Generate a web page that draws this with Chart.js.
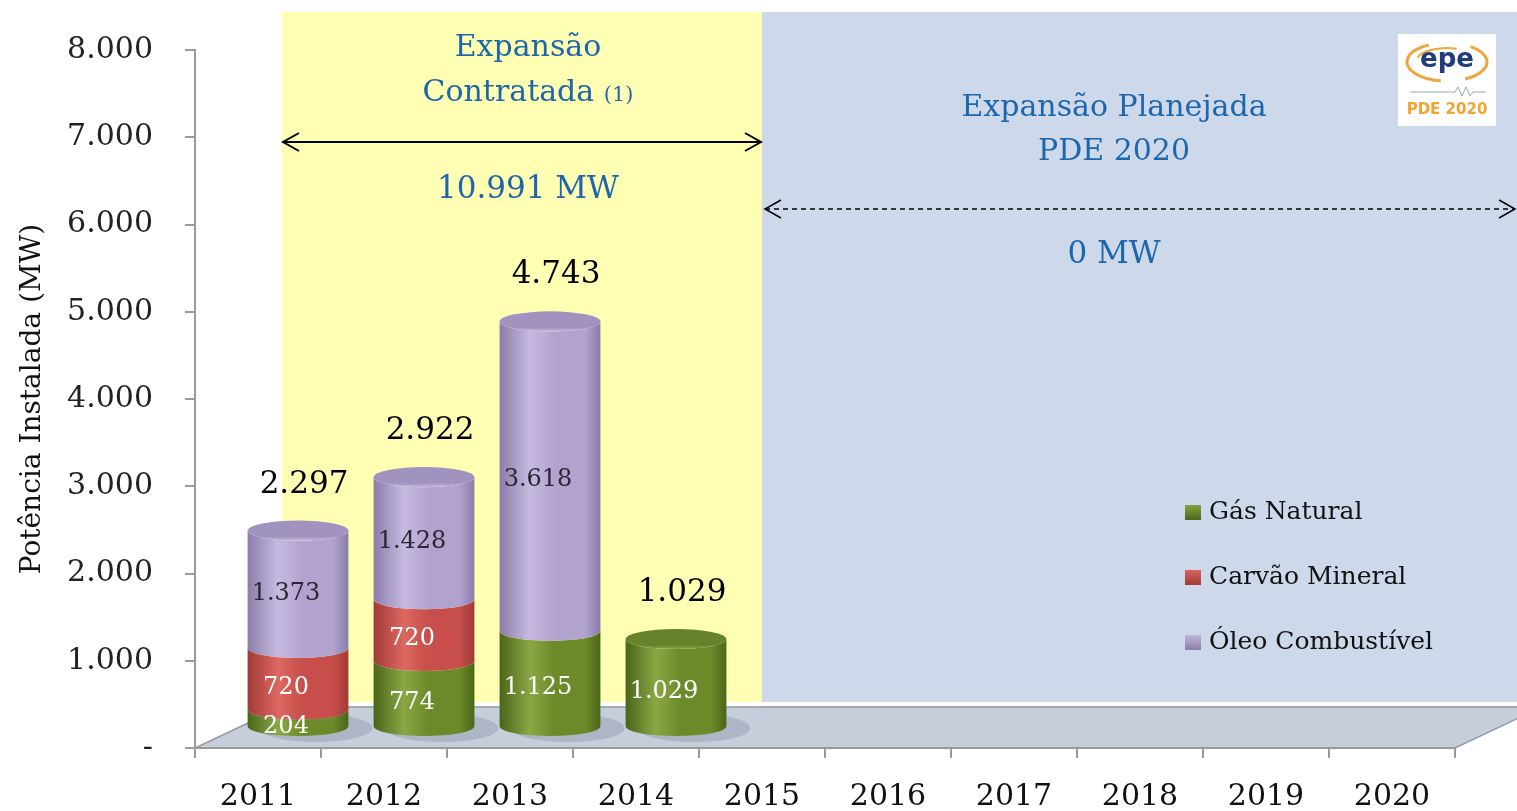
<!DOCTYPE html>
<html>
<head>
<meta charset="utf-8">
<script src="https://cdn.jsdelivr.net/npm/chart.js@4.4.1/dist/chart.umd.min.js"></script>
<style>
  html, body { margin: 0; padding: 0; background: #fff; }
  #wrap { width: 1517px; height: 811px; position: relative; }
</style>
</head>
<body>
<div id="wrap"><canvas id="grafico"></canvas></div>
<script>
// dados (MW)
const anos = ["2011", "2012", "2013", "2014", "2015", "2016", "2017", "2018", "2019", "2020"];
const gasNatural = [204, 774, 1125, 1029, 0, 0, 0, 0, 0, 0];
const carvaoMineral = [720, 720, 0, 0, 0, 0, 0, 0, 0, 0];
const oleoCombustivel = [1373, 1428, 3618, 0, 0, 0, 0, 0, 0, 0];
const series = ["Gás Natural", "Carvão Mineral", "Óleo Combustível"];
const totalContratado = "10.991 MW";
const totalPlanejado = "0 MW";

const SERIF = "'DejaVu Serif', serif";
const AZUL = "#1d66ac";

// cores dos cilindros: escuro, medio, claro, tampa
const estilos = [
  { dark: "#4b6519", mid: "#6c8a29", light: "#8aa744", cap: "#67822b", text: "#ffffff", dy: 9 },
  { dark: "#a13a37", mid: "#c74e4a", light: "#dd6761", cap: "#b94a46", text: "#ffffff", dy: 9 },
  { dark: "#8a7da9", mid: "#b1a2ce", light: "#c6bae0", cap: "#a193bf", text: "#2b2633", dy: 4 }
];

function fmt(v) {
  return String(v).replace(/\B(?=(\d{3})+(?!\d))/g, ".");
}

const DX = 40, DY = -21, K = 0.98; // deslocamento 3D das barras
const FLOOR_DX = 87, FLOOR_DY = -41;

function cilindro(ctx, L, R, yTop, yBot, st, ry, tampa) {
  const cx = (L + R) / 2, rx = (R - L) / 2;
  const g = ctx.createLinearGradient(L, 0, R, 0);
  g.addColorStop(0, st.dark);
  g.addColorStop(0.3, st.light);
  g.addColorStop(0.55, st.mid);
  g.addColorStop(0.85, st.mid);
  g.addColorStop(1, st.dark);
  ctx.beginPath();
  ctx.moveTo(L, yTop);
  ctx.lineTo(L, yBot);
  ctx.ellipse(cx, yBot, rx, ry, 0, Math.PI, 0, true);
  ctx.lineTo(R, yTop);
  ctx.ellipse(cx, yTop, rx, ry, 0, 0, Math.PI, false);
  ctx.closePath();
  ctx.fillStyle = g;
  ctx.fill();
  if (tampa) {
    const gc = ctx.createLinearGradient(0, yTop - ry, 0, yTop + ry);
    gc.addColorStop(0, st.cap);
    gc.addColorStop(0.8, st.cap);
    gc.addColorStop(1, st.light);
    ctx.beginPath();
    ctx.ellipse(cx, yTop, rx, ry, 0, 0, Math.PI * 2);
    ctx.fillStyle = gc;
    ctx.fill();
  }
}

function seta(ctx, x1, x2, y, dashed) {
  ctx.save();
  ctx.strokeStyle = "#000";
  ctx.lineWidth = dashed ? 1.5 : 2;
  ctx.setLineDash(dashed ? [5, 4] : []);
  ctx.beginPath();
  ctx.moveTo(x1, y); ctx.lineTo(x2, y);
  ctx.stroke();
  ctx.setLineDash([]);
  ctx.beginPath();
  ctx.moveTo(x1 + 16, y - 9); ctx.lineTo(x1, y); ctx.lineTo(x1 + 16, y + 9);
  ctx.moveTo(x2 - 16, y - 9); ctx.lineTo(x2, y); ctx.lineTo(x2 - 16, y + 9);
  ctx.stroke();
  ctx.restore();
}

const fundo = {
  id: "fundo",
  beforeDraw(chart) {
    const { ctx } = chart;
    const xs = chart.scales.x, ys = chart.scales.y;
    const y0 = ys.getPixelForValue(0);
    const limite = (xs.getPixelForValue(3) + xs.getPixelForValue(4)) / 2 + 63;
    const esq = xs.left + FLOOR_DX;
    const fundoY = y0 + FLOOR_DY;
    ctx.save();
    ctx.fillStyle = "#fff";
    ctx.fillRect(0, 0, chart.width, chart.height);
    ctx.fillStyle = "#ffffb3";
    ctx.fillRect(esq, 12, limite - esq, fundoY - 12);
    ctx.fillStyle = "#cdd9ea";
    ctx.fillRect(limite, 12, chart.width - limite, fundoY - 12);
    ctx.fillStyle = "#fff";
    ctx.fillRect(esq, fundoY - 5, chart.width - esq, 4);
    // piso
    ctx.beginPath();
    ctx.moveTo(xs.left, y0);
    ctx.lineTo(xs.right, y0);
    ctx.lineTo(xs.right + FLOOR_DX, fundoY);
    ctx.lineTo(esq, fundoY);
    ctx.closePath();
    ctx.fillStyle = "#c6cedb";
    ctx.fill();
    ctx.strokeStyle = "#8f99a8";
    ctx.lineWidth = 1.5;
    ctx.stroke();
    ctx.restore();
  }
};

const cilindros = {
  id: "cilindros",
  afterDatasetsDraw(chart) {
    const { ctx } = chart;
    const ys = chart.scales.y;
    const y0 = ys.getPixelForValue(0);
    const tr = y => y0 + (y - y0) * K + DY;
    const n = chart.data.labels.length;
    ctx.save();
    for (let i = 0; i < n; i++) {
      let cx = 0, ry = 0;
      const segs = [];
      chart.data.datasets.forEach((ds, d) => {
        const v = ds.data[i];
        if (!v) return;
        const el = chart.getDatasetMeta(d).data[i];
        const L = el.x - el.width / 2 + DX, R = el.x + el.width / 2 + DX;
        cx = (L + R) / 2;
        ry = el.width * 0.1;
        segs.push({ L, R, yt: tr(el.y), yb: tr(el.base), st: estilos[d], v });
      });
      if (!segs.length) continue;
      // sombra no piso
      const s0 = segs[0];
      ctx.beginPath();
      ctx.ellipse(cx + 18, s0.yb + 2, (s0.R - s0.L) / 2 + 6, ry + 4, 0, 0, Math.PI * 2);
      ctx.fillStyle = "rgba(90,100,125,0.22)";
      ctx.fill();
      segs.forEach((s, j) => cilindro(ctx, s.L, s.R, s.yt, s.yb, s.st, ry, j === segs.length - 1));
      ctx.textAlign = "center";
      ctx.textBaseline = "middle";
      ctx.font = "24px " + SERIF;
      let total = 0;
      segs.forEach(s => {
        total += s.v;
        ctx.fillStyle = s.st.text;
        ctx.fillText(fmt(s.v), cx - 12, (s.yt + s.yb) / 2 + s.st.dy);
      });
      const topo = segs[segs.length - 1].yt;
      ctx.fillStyle = "#000";
      ctx.font = "31px " + SERIF;
      ctx.fillText(fmt(total), cx + 6, topo - 46);
    }
    ctx.restore();
  }
};

const anotacoes = {
  id: "anotacoes",
  afterDraw(chart) {
    const { ctx } = chart;
    const xs = chart.scales.x;
    const limite = (xs.getPixelForValue(3) + xs.getPixelForValue(4)) / 2 + 63;
    const esq = xs.left + FLOOR_DX;
    const cA = (esq + limite) / 2 + 6;
    ctx.save();
    ctx.textBaseline = "middle";
    ctx.textAlign = "center";
    ctx.fillStyle = AZUL;
    ctx.font = "30px " + SERIF;
    ctx.fillText("Expansão", cA, 48);
    const t1 = "Contratada ", t2 = "(1)";
    const w1 = ctx.measureText(t1).width;
    ctx.font = "21px " + SERIF;
    const w2 = ctx.measureText(t2).width;
    const x0 = cA - (w1 + w2) / 2;
    ctx.textAlign = "left";
    ctx.font = "30px " + SERIF;
    ctx.fillText(t1, x0, 93);
    ctx.font = "21px " + SERIF;
    ctx.fillText(t2, x0 + w1, 96);
    ctx.textAlign = "center";
    ctx.font = "31px " + SERIF;
    ctx.fillText(totalContratado, cA, 190);
    seta(ctx, esq + 1, limite - 1, 142, false);

    const cB = 1114;
    ctx.fillStyle = AZUL;
    ctx.font = "30px " + SERIF;
    ctx.fillText("Expansão Planejada", cB, 108);
    ctx.fillText("PDE 2020", cB, 152);
    ctx.font = "31px " + SERIF;
    ctx.fillText(totalPlanejado, cB, 255);
    seta(ctx, limite + 3, chart.width - 2, 209, true);

    // legenda
    ctx.textAlign = "left";
    ctx.font = "25px " + SERIF;
    series.forEach((nome, i) => {
      const y = 512 + i * 65;
      const st = estilos[i];
      const g = ctx.createLinearGradient(0, y - 8, 0, y + 8);
      g.addColorStop(0, st.light);
      g.addColorStop(1, st.dark);
      ctx.fillStyle = g;
      ctx.fillRect(1185, y - 7, 16, 15);
      ctx.fillStyle = "#111";
      ctx.fillText(nome, 1209, y);
    });

    // logo
    ctx.fillStyle = "#fff";
    ctx.fillRect(1398, 34, 98, 92);
    ctx.strokeStyle = "#f2a53c";
    ctx.lineWidth = 3;
    ctx.beginPath();
    ctx.ellipse(1447, 62, 40, 19, 0, Math.PI * 0.55, Math.PI * 1.35);
    ctx.stroke();
    ctx.beginPath();
    ctx.ellipse(1447, 62, 40, 19, 0, Math.PI * 1.7, Math.PI * 2.35);
    ctx.stroke();
    ctx.lineWidth = 2;
    ctx.beginPath();
    ctx.ellipse(1447, 62, 31, 14, 0, Math.PI * 1.1, Math.PI * 1.6);
    ctx.stroke();
    ctx.fillStyle = "#1f3d7a";
    ctx.textAlign = "center";
    ctx.font = "bold 26px 'DejaVu Sans', sans-serif";
    ctx.fillText("epe", 1447, 60);
    ctx.strokeStyle = "#9aa6b8";
    ctx.lineWidth = 1;
    ctx.beginPath();
    ctx.moveTo(1410, 92); ctx.lineTo(1455, 92); ctx.lineTo(1458, 87); ctx.lineTo(1462, 96);
    ctx.lineTo(1466, 87); ctx.lineTo(1470, 96); ctx.lineTo(1473, 92); ctx.lineTo(1486, 92);
    ctx.stroke();
    ctx.fillStyle = "#f0a434";
    ctx.font = "bold 15px 'DejaVu Sans', sans-serif";
    ctx.fillText("PDE 2020", 1447, 110);
    ctx.restore();
  }
};

new Chart(document.getElementById("grafico"), {
  type: "bar",
  data: {
    labels: anos,
    datasets: [
      { label: series[0], data: gasNatural, backgroundColor: "rgba(0,0,0,0)", barPercentage: 0.8, categoryPercentage: 1 },
      { label: series[1], data: carvaoMineral, backgroundColor: "rgba(0,0,0,0)", barPercentage: 0.8, categoryPercentage: 1 },
      { label: series[2], data: oleoCombustivel, backgroundColor: "rgba(0,0,0,0)", barPercentage: 0.8, categoryPercentage: 1 }
    ]
  },
  plugins: [fundo, cilindros, anotacoes],
  options: {
    responsive: true,
    maintainAspectRatio: false,
    animation: false,
    layout: { padding: { top: 41, right: 62, left: 0, bottom: 0 } },
    plugins: { legend: { display: false }, tooltip: { enabled: false } },
    scales: {
      x: {
        stacked: true,
        grid: { offset: true, drawOnChartArea: false, tickLength: 10, color: "#9a9a9a", lineWidth: 2 },
        border: { color: "#9a9a9a", width: 2 },
        ticks: { font: { family: SERIF, size: 30 }, color: "#111", padding: 21, maxRotation: 0 },
        afterFit: s => { s.height = 63; }
      },
      y: {
        stacked: true,
        min: 0,
        max: 8000,
        grid: { drawOnChartArea: false, tickLength: 10, color: "#9a9a9a", lineWidth: 2 },
        border: { color: "#9a9a9a", width: 2 },
        ticks: {
          stepSize: 1000,
          font: { family: SERIF, size: 30 },
          color: "#222",
          padding: 32,
          callback: v => (v === 0 ? "-" : fmt(v))
        },
        title: {
          display: true,
          text: "Potência Instalada (MW)",
          font: { family: SERIF, size: 28 },
          color: "#111",
          padding: { top: 16, bottom: 0 }
        },
        afterFit: s => { s.width = 195; }
      }
    }
  }
});
</script>
</body>
</html>
